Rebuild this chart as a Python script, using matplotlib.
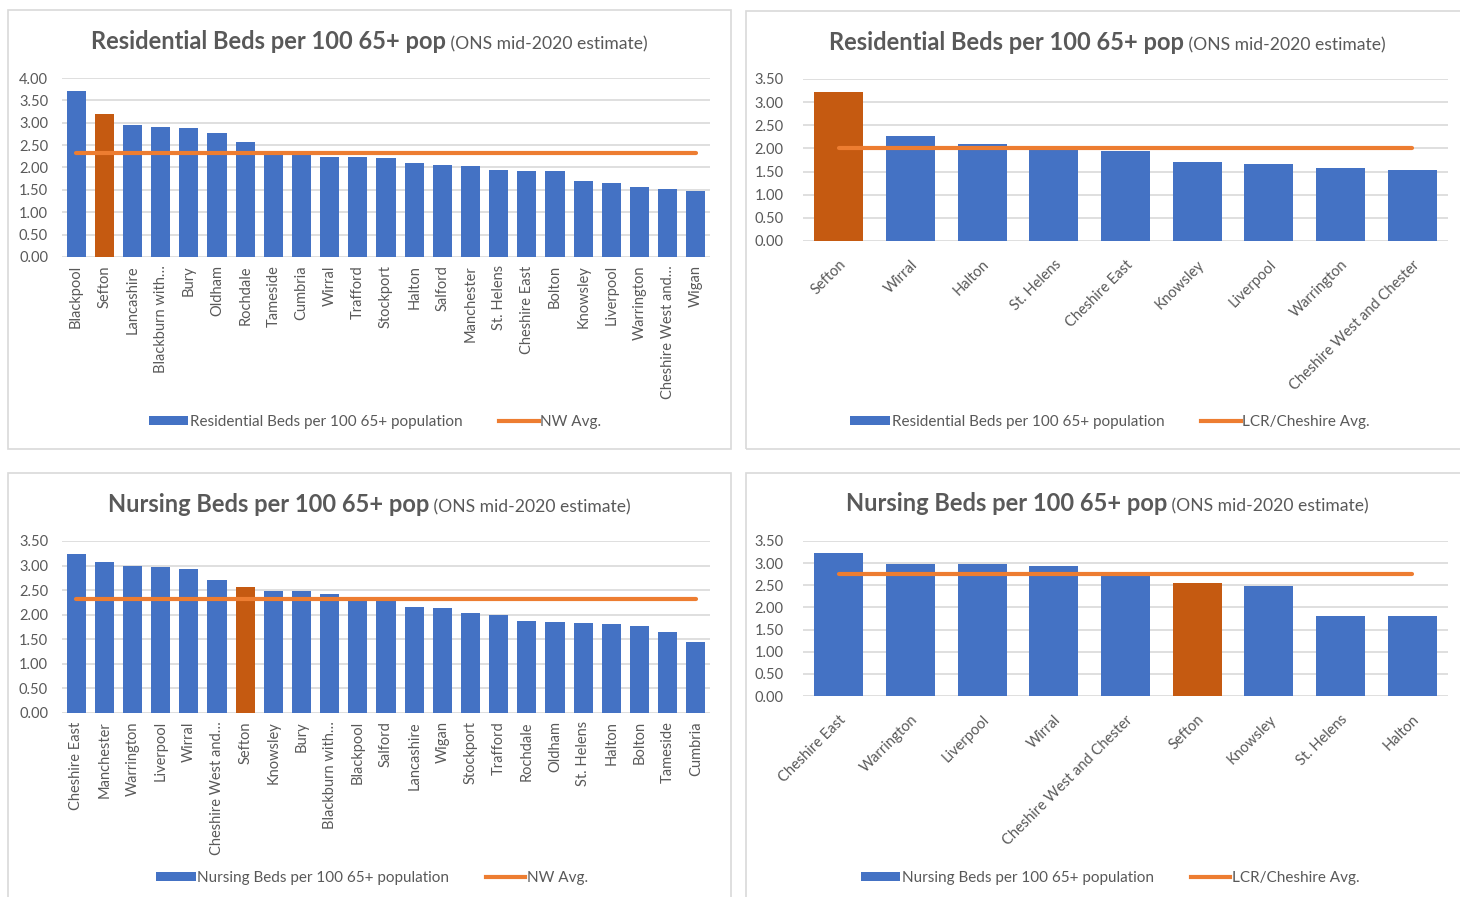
import matplotlib
matplotlib.use("Agg")
import matplotlib.pyplot as plt
from matplotlib.patches import Rectangle, Patch
from matplotlib.lines import Line2D
import numpy as np

W, H = 1460, 897

# ---------------- data ----------------
res_nw_labels = ["Blackpool", "Sefton", "Lancashire", "Blackburn with…", "Bury", "Oldham",
                 "Rochdale", "Tameside", "Cumbria", "Wirral", "Trafford", "Stockport",
                 "Halton", "Salford", "Manchester", "St. Helens", "Cheshire East", "Bolton",
                 "Knowsley", "Liverpool", "Warrington", "Cheshire West and…", "Wigan"]
res_nw_values = [3.70, 3.19, 2.95, 2.90, 2.88, 2.78, 2.58, 2.32, 2.30, 2.24, 2.23, 2.21,
                 2.09, 2.05, 2.03, 1.95, 1.93, 1.93, 1.70, 1.66, 1.56, 1.52, 1.48]
res_nw_avg = 2.32

res_lcr_labels = ["Sefton", "Wirral", "Halton", "St. Helens", "Cheshire East", "Knowsley",
                  "Liverpool", "Warrington", "Cheshire West and Chester"]
res_lcr_values = [3.21, 2.27, 2.10, 1.96, 1.95, 1.71, 1.67, 1.57, 1.53]
res_lcr_avg = 2.01

nur_nw_labels = ["Cheshire East", "Manchester", "Warrington", "Liverpool", "Wirral",
                 "Cheshire West and…", "Sefton", "Knowsley", "Bury", "Blackburn with…",
                 "Blackpool", "Salford", "Lancashire", "Wigan", "Stockport", "Trafford",
                 "Rochdale", "Oldham", "St. Helens", "Halton", "Bolton", "Tameside", "Cumbria"]
nur_nw_values = [3.23, 3.08, 3.00, 2.97, 2.93, 2.70, 2.57, 2.49, 2.49, 2.42, 2.30, 2.28,
                 2.16, 2.14, 2.04, 2.00, 1.88, 1.86, 1.84, 1.82, 1.78, 1.64, 1.44]
nur_nw_avg = 2.31

nur_lcr_labels = ["Cheshire East", "Warrington", "Liverpool", "Wirral",
                  "Cheshire West and Chester", "Sefton", "Knowsley", "St. Helens", "Halton"]
nur_lcr_values = [3.22, 2.99, 2.99, 2.93, 2.71, 2.56, 2.48, 1.81, 1.81]
nur_lcr_avg = 2.76

highlight = "Sefton"

# ---------------- style ----------------
BLUE = "#4472C4"
DARK_ORANGE = "#C55A11"
LINE_ORANGE = "#ED7D31"
GRID = "#D9D9D9"
TXT = "#595959"
FONT = ["Lato", "DejaVu Sans"]
plt.rcParams["font.family"] = FONT

fig = plt.figure(figsize=(W / 100, H / 100), dpi=100)
fig.patch.set_facecolor("white")


def fx(x):
    return x / W


def fy(y):
    return 1 - y / H


def add_axes_px(x0, ytop, x1, ybot):
    return fig.add_axes([fx(x0), fy(ybot), (x1 - x0) / W, (ybot - ytop) / H])


# panel borders
for (x0, y0, x1, y1) in [(8, 10, 731, 449), (746, 11, 1470, 449),
                         (8, 473, 731, 910), (746, 473, 1470, 910)]:
    fig.patches.append(Rectangle((fx(x0), fy(y1)), (x1 - x0) / W, (y1 - y0) / H,
                                 transform=fig.transFigure, fill=False,
                                 edgecolor=GRID, lw=1.2, zorder=0))

renderer = fig.canvas.get_renderer()


def title(cx, cy, bold, normal):
    t1 = fig.text(0, 0, bold, fontsize=17, fontweight="bold", color=TXT)
    t2 = fig.text(0, 0, " " + normal, fontsize=12.6, color=TXT)
    w1 = t1.get_window_extent(renderer).width
    w2 = t2.get_window_extent(renderer).width
    start = cx - (w1 + w2) / 2
    t1.set_position((fx(start), fy(cy)))
    t1.set_va("baseline")
    t2.set_position((fx(start + w1), fy(cy)))
    t2.set_va("baseline")


def panel(rect, labels, values, avg, ymax, rot, legend_xy, bar_label, avg_label, pad):
    ax = add_axes_px(*rect)
    x = np.arange(len(labels))
    colors = [DARK_ORANGE if l == highlight else BLUE for l in labels]
    ax.bar(x, values, width=0.68, color=colors, zorder=2)
    ax.plot(x, np.full(len(labels), avg), color=LINE_ORANGE, lw=3.0,
            solid_capstyle="round", zorder=3)
    ax.set_xlim(-0.5, len(labels) - 0.5)
    ax.set_ylim(0, ymax)
    ax.set_yticks(np.arange(0, ymax + 0.01, 0.5))
    ax.set_yticklabels([f"{v:.2f}" for v in np.arange(0, ymax + 0.01, 0.5)])
    ax.yaxis.grid(True, color=GRID, lw=1.2, zorder=0)
    ax.set_axisbelow(True)
    for s in ax.spines.values():
        s.set_visible(False)
    ax.tick_params(axis="both", length=0, colors=TXT, labelsize=10.5)
    ax.tick_params(axis="y", pad=pad)
    ax.set_xticks(x)
    if rot == 90:
        ax.set_xticklabels(labels, rotation=90, ha="center", va="top")
        ax.tick_params(axis="x", pad=6)
    else:
        ax.set_xticklabels(labels, rotation=45, ha="right", va="top",
                           rotation_mode="anchor")
        ax.tick_params(axis="x", pad=12)
    for t in ax.get_xticklabels() + ax.get_yticklabels():
        t.set_color(TXT)
    handles = [Patch(facecolor=BLUE, edgecolor="none", label=bar_label),
               Line2D([0], [0], color=LINE_ORANGE, lw=3, label=avg_label)]
    fig.legend(handles=handles, loc="center", ncol=2, frameon=False,
               bbox_to_anchor=(fx(legend_xy[0]), fy(legend_xy[1])),
               bbox_transform=fig.transFigure, fontsize=11, labelcolor=TXT,
               handlelength=2.6, handleheight=0.55, handletextpad=0.1,
               columnspacing=2.4)
    return ax


title(369, 49, "Residential Beds per 100 65+ pop", "(ONS mid-2020 estimate)")
title(1107, 50, "Residential Beds per 100 65+ pop", "(ONS mid-2020 estimate)")
title(369, 512, "Nursing Beds per 100 65+ pop", "(ONS mid-2020 estimate)")
title(1107, 511, "Nursing Beds per 100 65+ pop", "(ONS mid-2020 estimate)")

panel((62, 78, 710, 257), res_nw_labels, res_nw_values, res_nw_avg, 4.0, 90,
      (375, 422), "Residential Beds per 100 65+ population", "NW Avg.", 10)
panel((803, 79, 1448, 241), res_lcr_labels, res_lcr_values, res_lcr_avg, 3.5, 45,
      (1110, 422), "Residential Beds per 100 65+ population", "LCR/Cheshire Avg.", 14)
panel((62, 541, 710, 713), nur_nw_labels, nur_nw_values, nur_nw_avg, 3.5, 90,
      (372, 878), "Nursing Beds per 100 65+ population", "NW Avg.", 10)
panel((803, 541, 1448, 696), nur_lcr_labels, nur_lcr_values, nur_lcr_avg, 3.5, 45,
      (1110, 878), "Nursing Beds per 100 65+ population", "LCR/Cheshire Avg.", 14)

fig.savefig("out.png", dpi=100, facecolor="white")
